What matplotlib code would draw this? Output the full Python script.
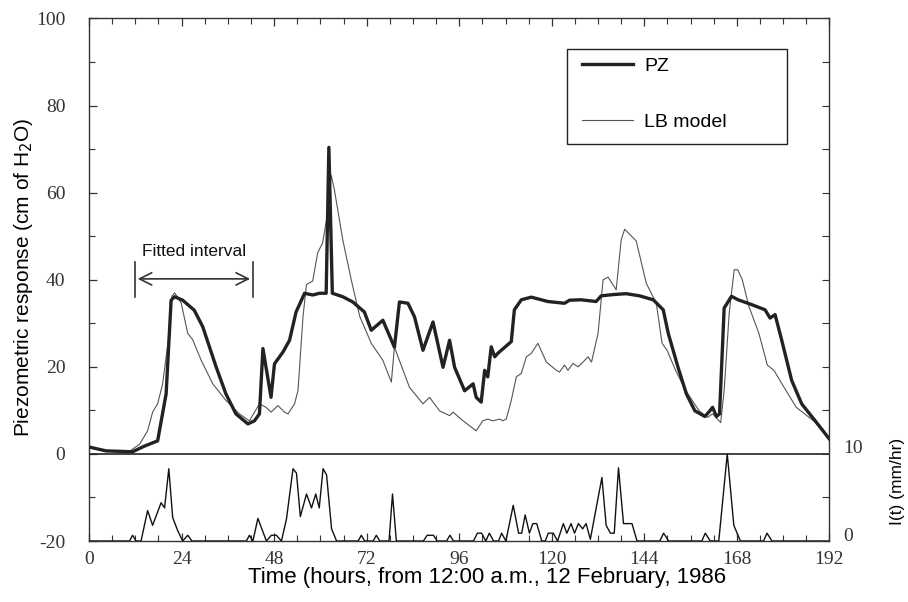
import numpy as np
import matplotlib.pyplot as plt
import matplotlib.transforms as mtransforms
from matplotlib.patches import Rectangle
from matplotlib.ticker import MultipleLocator, FixedLocator, FuncFormatter

plt.rcParams['axes.unicode_minus'] = False

# piezometer (PZ)
pz_hours = [0.5, 4.4, 11.3, 14.4, 17.8, 20.0, 21.3, 22.2, 24.3, 27.3, 29.5, 33.0, 35.5, 38.1,
            41.2, 42.9, 44.2, 45.1, 47.2, 48.1, 50.3, 52.0, 53.7, 55.9, 58.0, 59.8, 61.5,
            62.2, 63.1, 65.8, 68.4, 71.4, 73.2, 76.2, 79.2, 80.5, 82.7, 84.4, 86.6, 89.2,
            91.8, 93.5, 94.8, 97.4, 99.6, 100.4, 101.7, 102.6, 103.4, 104.3, 105.2, 106.0,
            109.5, 110.3, 112.1, 114.7, 119.0, 123.3, 124.6, 127.6, 131.5, 132.8, 135.9,
            139.3, 142.8, 146.3, 148.9, 150.2, 152.7, 154.9, 157.1, 159.7, 160.7, 161.7,
            162.7, 163.5, 164.7, 166.6, 168.3, 171.8, 175.3, 176.6, 177.9, 179.6, 182.2,
            184.8, 188.3, 192.0]
pz_values = [1.5, 0.7, 0.5, 1.8, 3.0, 13.8, 35.3, 36.1, 35.3, 33.0, 29.2, 19.9, 13.8, 9.2,
             6.9, 7.6, 9.2, 24.2, 13.0, 20.7, 23.4, 26.1, 32.6, 36.9, 36.5, 36.9, 36.9,
             70.4, 36.9, 36.1, 34.9, 32.6, 28.4, 30.7, 24.5, 34.9, 34.6, 31.5, 23.8, 30.3,
             19.9, 26.1, 19.9, 14.5, 16.1, 13.0, 11.9, 19.2, 17.7, 24.6, 22.3, 23.1,
             25.8, 33.1, 35.4, 36.0, 35.0, 34.6, 35.3, 35.4, 35.0, 36.3, 36.6,
             36.8, 36.3, 35.4, 33.1, 27.7, 20.0, 13.8, 9.9, 8.6, 9.6, 10.7,
             8.6, 9.2, 33.5, 36.2, 35.4, 34.3, 33.1, 31.2, 32.0, 26.2, 16.9,
             11.5, 7.6, 3.4]

# LB model
lb_hours = [10.0, 11.3, 13.1, 15.2, 16.5, 17.8, 19.1, 20.8, 21.5, 22.2, 23.9, 25.6, 26.9,
            29.1, 32.1, 35.5, 39.0, 41.6, 44.2, 45.9, 47.2, 49.0, 50.7, 51.6, 53.3, 54.2,
            55.5, 56.4, 58.0, 59.3, 60.6, 61.9, 62.8, 63.6, 65.8, 68.0, 70.2, 73.2, 76.2,
            78.4, 79.2, 83.1, 86.6, 88.3, 90.9, 93.5, 94.4, 97.0, 100.4, 102.1, 103.4,
            104.7, 106.5, 107.3, 108.2, 109.5, 110.8, 112.1, 113.4, 114.7, 116.4, 118.6,
            121.2, 122.0, 123.3, 124.2, 125.5, 126.8, 128.1, 129.4, 130.3, 132.0, 133.3,
            134.6, 136.7, 138.0, 138.9, 141.9, 144.5, 147.1, 148.6, 149.9, 152.1, 154.7,
            158.2, 160.4, 161.7, 163.8, 164.7, 166.0, 167.3, 168.2, 169.4, 171.1, 173.7,
            175.9, 177.6, 180.7, 183.4, 188.3, 192.0]
lb_values = [0.3, 1.1, 2.2, 5.3, 9.6, 11.5, 16.1, 27.7, 36.2, 37.0, 34.7, 27.7, 26.2,
             21.5, 16.1, 12.3, 9.2, 7.6, 11.5, 10.7, 9.6, 11.1, 9.6, 9.2, 11.5, 14.6,
             31.6, 38.9, 39.7, 46.2, 48.5, 55.4, 64.0, 60.8, 49.2, 40.0, 31.6, 25.4, 21.5,
             16.5, 24.5, 15.3, 11.5, 13.0, 9.9, 8.8, 9.6, 7.6, 5.3, 7.6, 8.0,
             7.6, 8.0, 7.6, 8.0, 12.3, 17.7, 18.5, 22.3, 23.1, 25.4, 21.1,
             19.2, 18.8, 20.4, 19.2, 20.8, 20.0, 21.1, 22.3, 21.1, 27.7, 40.0,
             40.6, 37.7, 49.2, 51.6, 48.9, 39.2, 34.6, 25.4, 23.8, 19.2, 14.6,
             9.9, 8.4, 9.2, 7.2, 14.6, 32.3, 42.3, 42.3, 40.0, 33.9, 27.7,
             20.4, 19.2, 14.6, 10.7, 7.3, 3.3]

# rainfall intensity I(t), mm/hr
rain_hours = [0.0, 10.5, 11.3, 12.2, 13.5, 15.2, 16.5, 18.7, 19.6, 20.7, 21.7, 23.0, 24.3,
              25.6, 26.7, 40.8, 41.6, 42.5, 43.8, 46.0, 47.3, 48.6, 49.9, 51.2, 52.9, 53.8,
              54.8, 56.4, 57.7, 58.8, 59.7, 60.7, 61.6, 62.9, 64.2, 69.8, 70.6, 71.5, 73.7,
              74.5, 75.4, 77.8, 78.7, 79.7, 86.7, 87.7, 89.3, 90.3, 92.7, 93.6, 94.5,
              99.7, 100.7, 101.8, 102.9, 103.8, 104.9, 106.2, 107.0, 108.1, 110.0, 111.4,
              112.2, 113.1, 114.2, 115.1, 116.1, 117.4, 118.3, 119.1, 120.4, 121.5, 123.0,
              123.9, 125.0, 125.9, 126.9, 128.0, 128.9, 130.0, 133.0, 134.1, 135.2, 136.2,
              137.3, 138.6, 140.8, 142.1, 148.0, 149.0, 150.3, 158.9, 159.8, 161.1, 163.3,
              165.5, 167.2, 168.9, 174.9, 175.8, 177.1, 192.0]
rain_values = [0, 0, 0.66, 0, 0, 3.5, 1.8, 4.4, 3.8, 8.3, 2.7, 1.2, 0,
               0.66, 0, 0, 0.66, 0, 2.6, 0, 0.66, 0.66, 0, 2.5, 8.3, 7.8,
               2.8, 5.4, 3.8, 5.4, 3.8, 8.3, 7.6, 1.4, 0, 0, 0.66, 0, 0,
               0.66, 0, 0, 5.4, 0, 0, 0.66, 0.66, 0, 0, 0.66, 0,
               0, 0.9, 0.9, 0, 0.9, 0, 0, 0.9, 0, 4.1, 0.9,
               0.9, 3.0, 0.9, 2.0, 2.0, 0, 0, 0.9, 0.9, 0, 2.0,
               0.9, 2.0, 0.9, 2.0, 1.4, 2.0, 0.2, 7.3, 1.8, 0.9, 0.9,
               8.4, 2.0, 2.0, 0, 0, 0.9, 0, 0, 0.9, 0, 0,
               10.0, 1.8, 0, 0, 0.9, 0, 0]

fitted_start, fitted_end = 11.9, 42.5

serif = ['Liberation Serif', 'DejaVu Serif']
sans = ['Liberation Sans', 'DejaVu Sans']

fig = plt.figure(figsize=(9.08, 6.02), dpi=100)
ax = fig.add_axes([0.098, 0.1013, 0.8155, 0.868])

ax.plot(lb_hours, lb_values, color='#555555', lw=0.8, label='LB model', zorder=2)
ax.plot(pz_hours, pz_values, color='#222222', lw=2.4, label='PZ', zorder=3)
ax.axhline(0, color='#222222', lw=1.2, zorder=4)

ax.set_xlim(0, 192)
ax.set_ylim(-20, 100)
ax.xaxis.set_major_locator(MultipleLocator(24))
ax.xaxis.set_minor_locator(MultipleLocator(6))
ax.yaxis.set_major_locator(MultipleLocator(20))
ax.yaxis.set_minor_locator(MultipleLocator(10))
ax.tick_params(which='both', direction='in', top=True, right=False, color='#333333',
               labelsize=14, labelcolor='#333333')
ax.tick_params(which='major', length=6, width=0.9)
ax.tick_params(which='minor', length=4, width=0.8)
ax.tick_params(axis='x', pad=7)
ax.tick_params(axis='y', pad=17)
for lab in ax.get_xticklabels() + ax.get_yticklabels():
    lab.set_family(serif)
for s in ax.spines.values():
    s.set_color('#333333')
    s.set_linewidth(1.0)

# rain on secondary axis
ax2 = ax.twinx()
ax2.plot(rain_hours, rain_values, color='#111111', lw=1.0)
ax2.set_ylim(0, 60)
ax2.yaxis.set_major_locator(FixedLocator(np.arange(0, 61, 5)))
ax2.yaxis.set_major_formatter(FuncFormatter(lambda v, p: '%d' % v if v in (0, 10) else ''))
ax2.tick_params(direction='in', length=5, width=0.8, color='#333333', labelsize=14,
                labelcolor='#333333', pad=10)
up = mtransforms.ScaledTranslation(0, 5 / 72, fig.dpi_scale_trans)
for lab in ax2.get_yticklabels():
    lab.set_family(serif)
    lab.set_transform(lab.get_transform() + up)
for s in ax2.spines.values():
    s.set_visible(False)

# fitted interval marker
ax.plot([fitted_start, fitted_start], [36, 44], color='#333333', lw=1.2)
ax.plot([fitted_end, fitted_end], [36, 44], color='#333333', lw=1.2)
ax.annotate('', xy=(fitted_start, 40.2), xytext=(fitted_end, 40.2),
            arrowprops=dict(arrowstyle='<->', color='#333333', lw=1.2, mutation_scale=22))
ax.text((fitted_start + fitted_end) / 2, 46.5, 'Fitted interval', ha='center', va='center',
        fontsize=12.5, family=sans, color='#111111')

# legend
ax.add_patch(Rectangle((0.6455, 0.7598), 0.2971, 0.1818, transform=ax.transAxes,
                       fill=False, lw=1.0, edgecolor='#222222', zorder=5))
h, l = ax.get_legend_handles_labels()
ax.legend([h[1], h[0]], [l[1], l[0]], loc='upper left', bbox_to_anchor=(0.6658, 0.925),
          frameon=False, borderpad=0, borderaxespad=0, handlelength=2.6,
          handletextpad=0.6, labelspacing=1.95, prop={'family': sans, 'size': 14})

fig.text(0.0264, 0.539, 'Piezometric response (cm of H$_2$O)', rotation=90, ha='center',
         va='center', family=sans, fontsize=15)
fig.text(0.536, 0.0415, 'Time (hours, from 12:00 a.m., 12 February, 1986', ha='center',
         va='center', family=sans, fontsize=16)
fig.text(0.988, 0.20, 'I(t) (mm/hr)', rotation=90, ha='center', va='center', family=sans,
         fontsize=12.5)

plt.savefig('out.png', dpi=100)
